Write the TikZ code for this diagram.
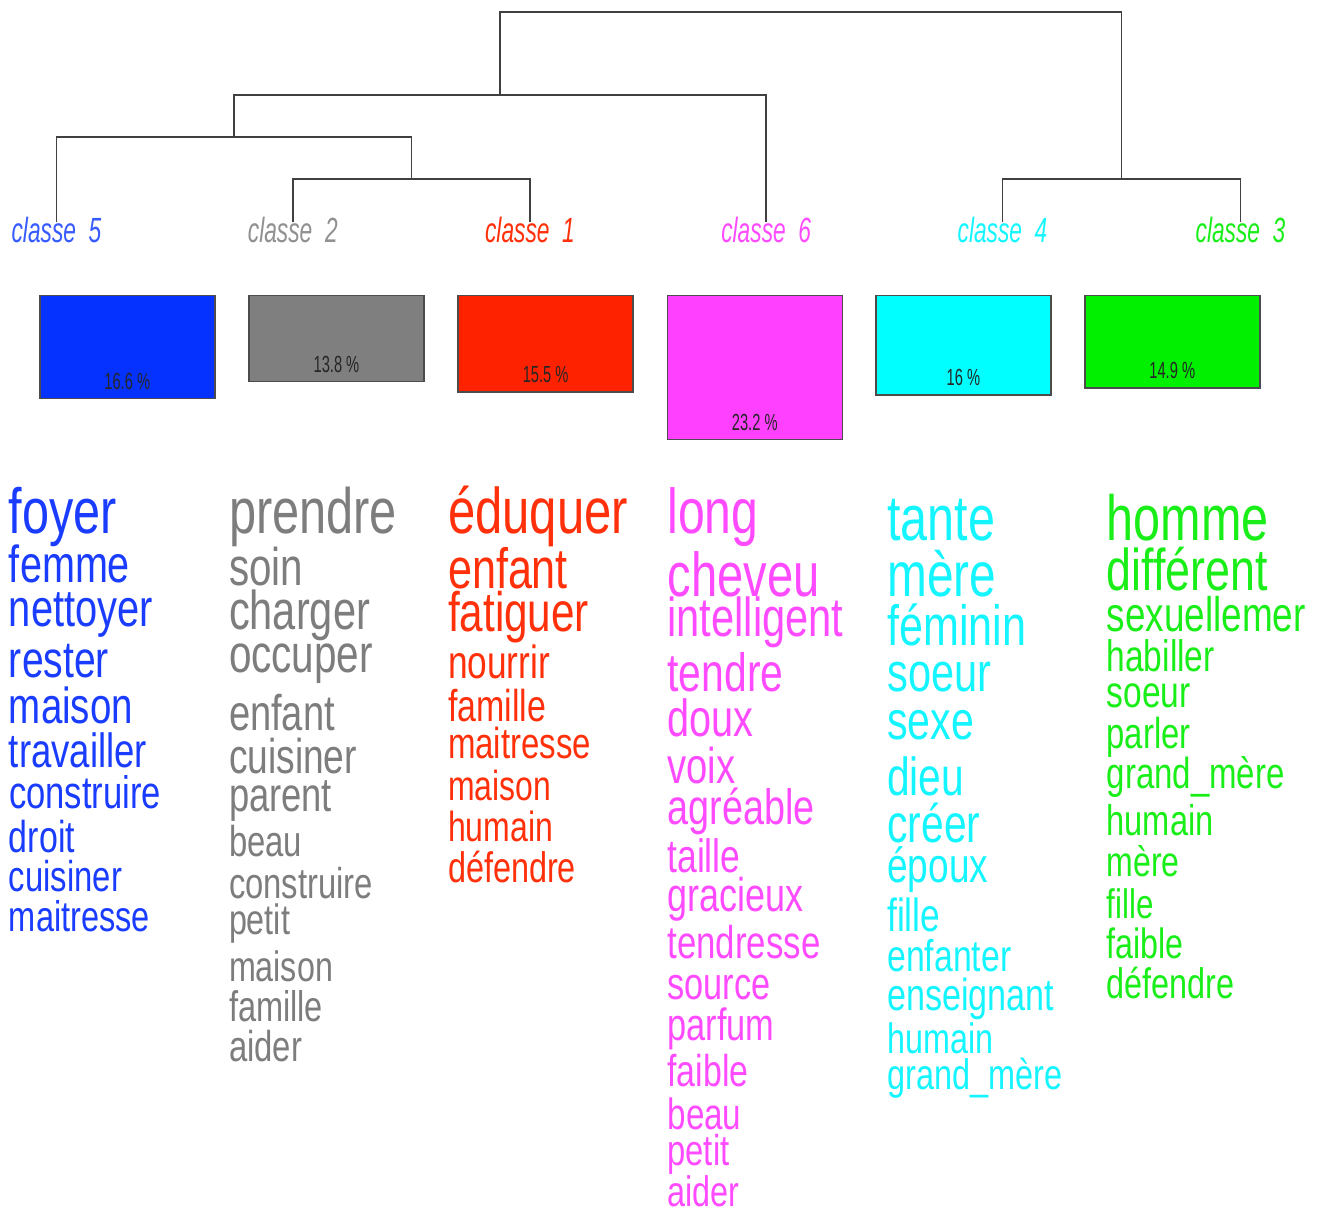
\documentclass[tikz,border=0pt]{standalone}
\usepackage{fontspec}
\setmainfont{Liberation Sans}
\usepackage{graphicx}

% class colours: boxes, words and leaf labels
\definecolor{boxA}{RGB}{5,50,255}
\definecolor{boxB}{RGB}{127,127,127}
\definecolor{boxC}{RGB}{255,34,0}
\definecolor{boxD}{RGB}{255,64,255}
\definecolor{boxE}{RGB}{0,255,255}
\definecolor{boxF}{RGB}{0,240,0}
\definecolor{txtA}{RGB}{25,60,255}
\definecolor{txtB}{RGB}{125,125,125}
\definecolor{txtC}{RGB}{255,48,10}
\definecolor{txtD}{RGB}{255,75,255}
\definecolor{txtE}{RGB}{20,245,255}
\definecolor{txtF}{RGB}{25,238,25}

% a word of given ink width, in a tall narrow face
\newcommand\wrd[2]{\scalebox{1}[1.316]{\resizebox{#1pt}{!}{\fontsize{40}{40}\selectfont #2}}}
% leaf label and percentage label
\newcommand\cls[1]{\scalebox{0.65}[1]{\fontsize{35}{36}\selectfont\itshape classe\ \ #1}}
\newcommand\pct[1]{\scalebox{0.63}[1]{\fontsize{23.3}{24}\selectfont #1}}

\begin{document}
\begin{tikzpicture}[x=1pt,y=-1pt,
  word/.style={anchor=base west, inner sep=0pt, outer sep=0pt},
  leaflabel/.style={anchor=base, inner sep=0pt},
  classbox/.style={draw=black!70, line width=1.5pt, anchor=north west,
    minimum width=175pt, inner sep=0pt},
  pctlabel/.style={anchor=base, inner sep=0pt, text=black!85},
  branch/.style={draw=black!75, line width=1.8pt}]

\fill[white] (0,0) rectangle (1324,1214);
\useasboundingbox (0,0) rectangle (1324,1214);

% ---------- dendrogram ----------
\coordinate (t5) at (56.5,222);
\coordinate (t2) at (292.8,222);
\coordinate (t1) at (530,222);
\coordinate (t6) at (766.2,222);
\coordinate (t4) at (1002.5,222);
\coordinate (t3) at (1240.5,222);
\coordinate (m21) at (411.4,179);
\coordinate (m521) at (234,137);
\coordinate (m5216) at (500.2,95);
\coordinate (m43) at (1121.5,179);
\coordinate (mroot) at (811,12.3);

\path[branch] (t2) |- (m21) -| (t1);
\path[branch] (t5) |- (m521) -| (m21);
\path[branch] (m521) |- (m5216) -| (t6);
\path[branch] (t4) |- (m43) -| (t3);
\path[branch] (m5216) |- (mroot) -| (m43);

\node[leaflabel, text=boxA!80!white] (c5) at (56.5,243) {\cls{5}};
\node[leaflabel, text=txtB!85!white] (c2) at (292.8,243) {\cls{2}};
\node[leaflabel, text=txtC] (c1) at (530,243) {\cls{1}};
\node[leaflabel, text=txtD] (c6) at (766.2,243) {\cls{6}};
\node[leaflabel, text=txtE] (c4) at (1002.5,243) {\cls{4}};
\node[leaflabel, text=txtF] (c3) at (1240.5,243) {\cls{3}};

% ---------- class size boxes ----------
\node[classbox, fill=boxA, minimum height=102.9pt] (b5) at (39,295) {};
\node[classbox, fill=boxB, minimum height=85.6pt] (b2) at (248.2,295) {};
\node[classbox, fill=boxC, minimum height=96.1pt] (b1) at (457.4,295) {};
\node[classbox, fill=boxD, minimum height=143.8pt] (b6) at (666.5,295) {};
\node[classbox, fill=boxE, minimum height=99.2pt] (b4) at (875.2,295) {};
\node[classbox, fill=boxF, minimum height=92.4pt] (b3) at (1084,295) {};

\node[pctlabel] (p5) at ([yshift=10pt]b5.south) {\pct{16.6 \%}};
\node[pctlabel] (p2) at ([yshift=10pt]b2.south) {\pct{13.8 \%}};
\node[pctlabel] (p1) at ([yshift=10pt]b1.south) {\pct{15.5 \%}};
\node[pctlabel] (p6) at ([yshift=10pt]b6.south) {\pct{23.2 \%}};
\node[pctlabel] (p4) at ([yshift=10pt]b4.south) {\pct{16 \%}};
\node[pctlabel] (p3) at ([yshift=10pt]b3.south) {\pct{14.9 \%}};

% ---------- class 5 words ----------
\begin{scope}[every node/.style={word, text=txtA}]
\node (a1) at (9,533) {\wrd{108}{foyer}};
\node (a2) at (9,582) {\wrd{121}{femme}};
\node (a3) at (9,626) {\wrd{144}{nettoyer}};
\node (a4) at (9,677) {\wrd{100}{rester}};
\node (a5) at (9,723) {\wrd{124}{maison}};
\node (a6) at (9,767) {\wrd{138}{travailler}};
\node (a7) at (9,808) {\wrd{152}{construire}};
\node (a8) at (9,852) {\wrd{66}{droit}};
\node (a9) at (9,891) {\wrd{113}{cuisiner}};
\node (a10) at (9,931) {\wrd{141}{maitresse}};
\end{scope}

% ---------- class 2 words ----------
\begin{scope}[every node/.style={word, text=txtB}]
\node (b1w) at (229,533) {\wrd{168}{prendre}};
\node (b2w) at (229,585) {\wrd{74}{soin}};
\node (b3w) at (229,629) {\wrd{141}{charger}};
\node (b4w) at (229,672.7) {\wrd{144}{occuper}};
\node (b5w) at (229,730) {\wrd{106}{enfant}};
\node (b6w) at (229,773) {\wrd{128}{cuisiner}};
\node (b7w) at (229,811.7) {\wrd{103}{parent}};
\node (b8w) at (229,856.7) {\wrd{73}{beau}};
\node (b9w) at (229,898.3) {\wrd{144}{construire}};
\node (b10w) at (229,934) {\wrd{61}{petit}};
\node (b11w) at (229,981.7) {\wrd{104}{maison}};
\node (b12w) at (229,1021.7) {\wrd{94}{famille}};
\node (b13w) at (229,1061.7) {\wrd{73}{aider}};
\end{scope}

% ---------- class 1 words ----------
\begin{scope}[every node/.style={word, text=txtC}]
\node (r1) at (448,533.3) {\wrd{180}{éduquer}};
\node (r2) at (448,588.3) {\wrd{120}{enfant}};
\node (r3) at (448,631.7) {\wrd{141}{fatiguer}};
\node (r4) at (448,678.3) {\wrd{102}{nourrir}};
\node (r5) at (448,721.7) {\wrd{98}{famille}};
\node (r6) at (448,758.3) {\wrd{143}{maitresse}};
\node (r7) at (448,800) {\wrd{103}{maison}};
\node (r8) at (448,841.7) {\wrd{105}{humain}};
\node (r9) at (448,882.7) {\wrd{128}{défendre}};
\end{scope}

% ---------- class 6 words ----------
\begin{scope}[every node/.style={word, text=txtD}]
\node (g1) at (667.5,533.3) {\wrd{91}{long}};
\node (g2) at (667.5,596) {\wrd{152}{cheveu}};
\node (g3) at (667.5,636.7) {\wrd{176}{intelligent}};
\node (g4) at (667.5,691.7) {\wrd{116}{tendre}};
\node (g5) at (667.5,736.7) {\wrd{86}{doux}};
\node (g6) at (667.5,783.3) {\wrd{68}{voix}};
\node (g7) at (667.5,824) {\wrd{147}{agréable}};
\node (g8) at (667.5,872) {\wrd{73}{taille}};
\node (g9) at (667.5,911.7) {\wrd{136}{gracieux}};
\node (g10) at (667.5,958.3) {\wrd{153}{tendresse}};
\node (g11) at (667.5,999.3) {\wrd{103}{source}};
\node (g12) at (667.5,1040) {\wrd{107}{parfum}};
\node (g13) at (667.5,1086.7) {\wrd{81}{faible}};
\node (g14) at (667.5,1129.3) {\wrd{74}{beau}};
\node (g15) at (667.5,1165) {\wrd{62}{petit}};
\node (g16) at (667.5,1206.7) {\wrd{72}{aider}};
\end{scope}

% ---------- class 4 words ----------
\begin{scope}[every node/.style={word, text=txtE}]
\node (k1) at (887.3,540) {\wrd{108}{tante}};
\node (k2) at (887.3,596) {\wrd{109}{mère}};
\node (k3) at (887.3,645) {\wrd{139}{féminin}};
\node (k4) at (887.3,691.7) {\wrd{104}{soeur}};
\node (k5) at (887.3,739.3) {\wrd{87}{sexe}};
\node (k6) at (887.3,795) {\wrd{77}{dieu}};
\node (k7) at (887.3,842.7) {\wrd{93}{créer}};
\node (k8) at (887.3,882.7) {\wrd{101}{époux}};
\node (k9) at (887.3,931.7) {\wrd{53}{fille}};
\node (k10) at (887.3,971.7) {\wrd{124}{enfanter}};
\node (k11) at (887.3,1010.7) {\wrd{167}{enseignant}};
\node (k12) at (887.3,1053.3) {\wrd{106}{humain}};
\node (k13) at (887.3,1089.3) {\wrd{175}{grand\_mère}};
\end{scope}

% ---------- class 3 words ----------
\begin{scope}[every node/.style={word, text=txtF}]
\node (v1) at (1106.7,540) {\wrd{162}{homme}};
\node (v2) at (1106.7,590) {\wrd{161}{différent}};
\node (v3) at (1106.7,631.7) {\wrd{199}{sexuellemer}};
\node (v4) at (1106.7,671.7) {\wrd{108}{habiller}};
\node (v5) at (1106.7,707.3) {\wrd{84}{soeur}};
\node (v6) at (1106.7,748.3) {\wrd{84}{parler}};
\node (v7) at (1106.7,788.3) {\wrd{178}{grand\_mère}};
\node (v8) at (1106.7,835) {\wrd{107}{humain}};
\node (v9) at (1106.7,876.7) {\wrd{73}{mère}};
\node (v10) at (1106.7,918.3) {\wrd{47}{fille}};
\node (v11) at (1106.7,958.3) {\wrd{77}{faible}};
\node (v12) at (1106.7,998.3) {\wrd{128}{défendre}};
\end{scope}

\end{tikzpicture}
\end{document}
